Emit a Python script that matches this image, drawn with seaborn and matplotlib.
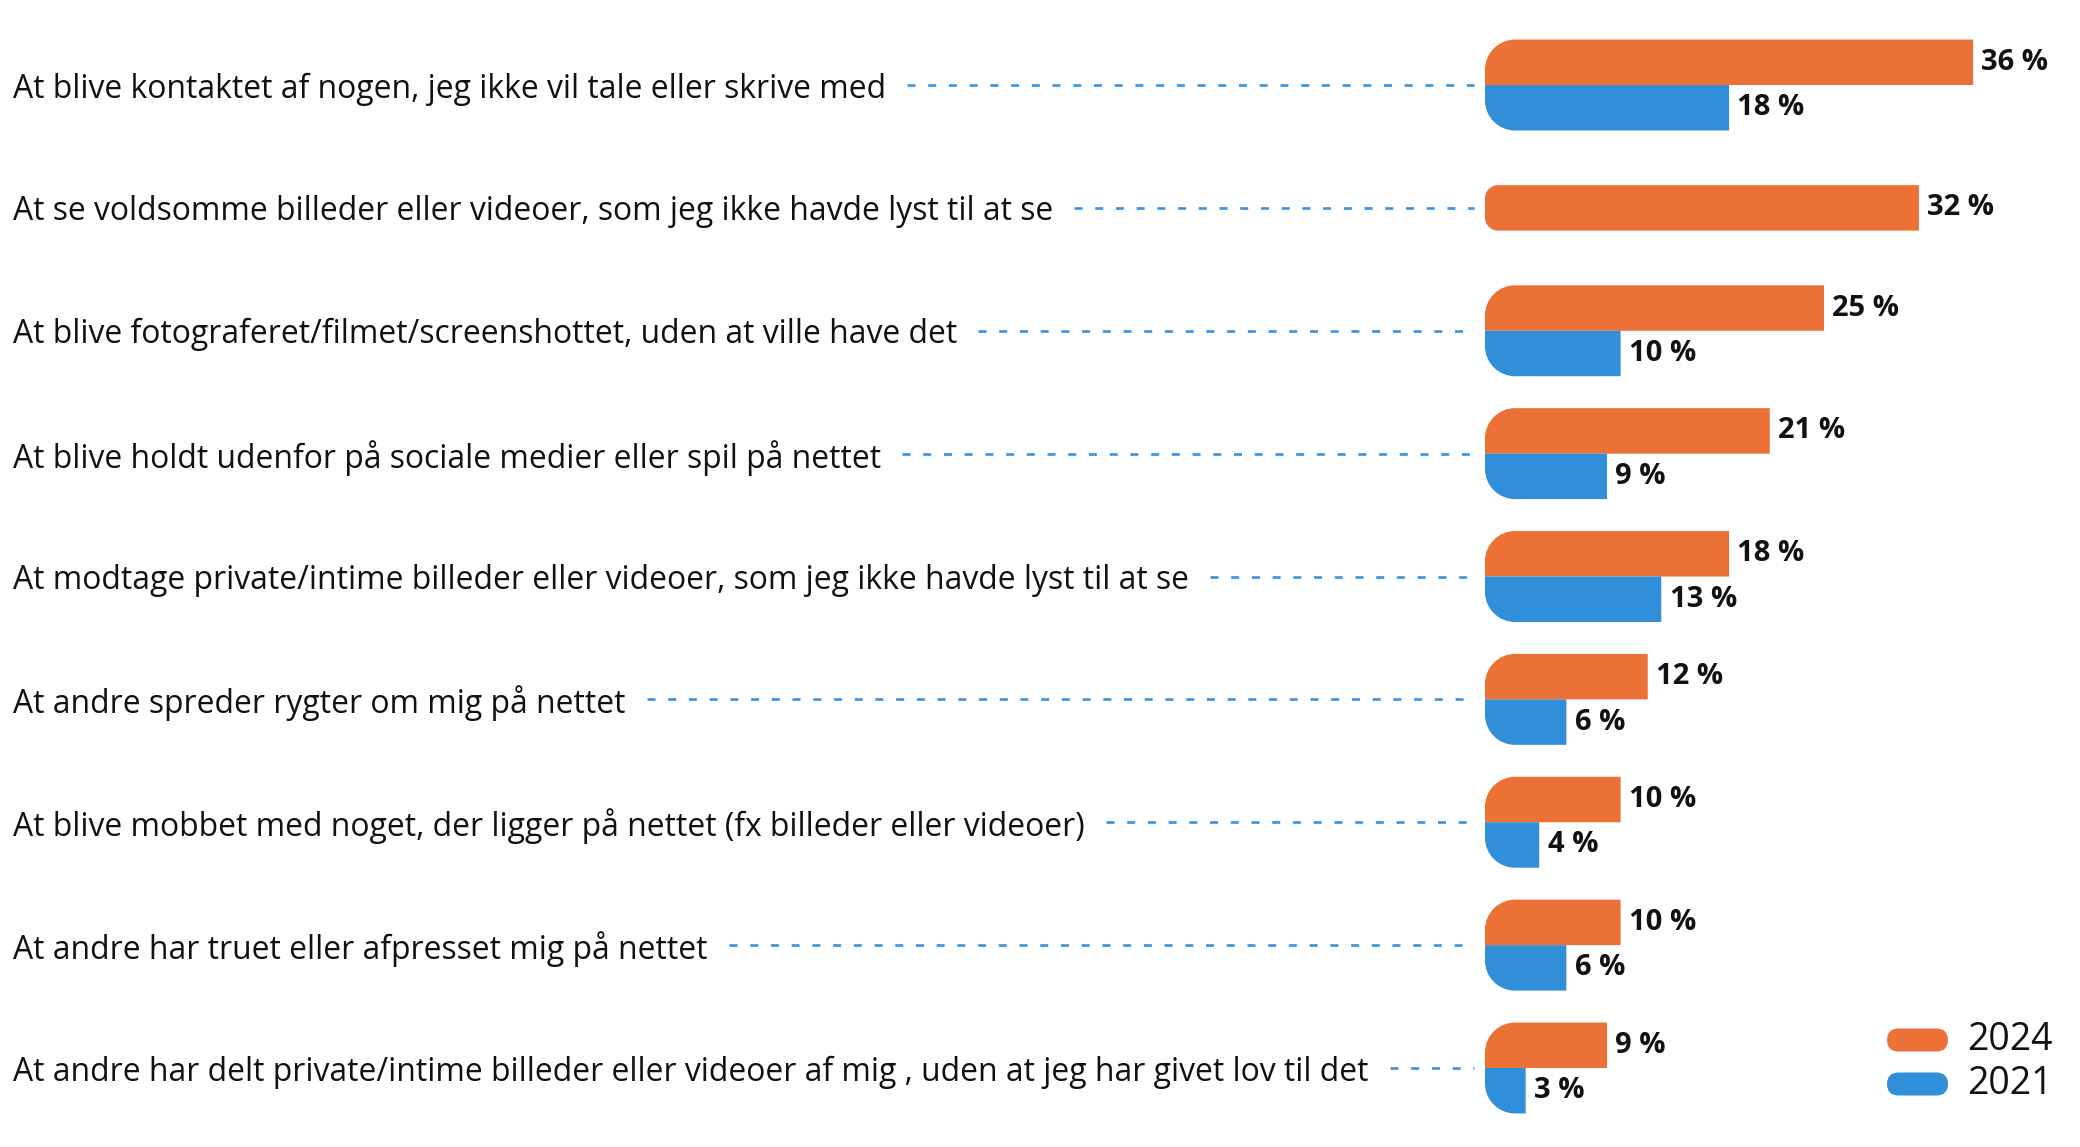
import numpy as np
import pandas as pd
import matplotlib
matplotlib.use("Agg")
import matplotlib.pyplot as plt
import seaborn as sns
from matplotlib.path import Path
from matplotlib.patches import PathPatch, FancyBboxPatch
from matplotlib import transforms as mtransforms
from matplotlib.colors import to_rgb

# ---------------- data ----------------
categories = [
    "At blive kontaktet af nogen, jeg ikke vil tale eller skrive med",
    "At se voldsomme billeder eller videoer, som jeg ikke havde lyst til at se",
    "At blive fotograferet/filmet/screenshottet, uden at ville have det",
    "At blive holdt udenfor på sociale medier eller spil på nettet",
    "At modtage private/intime billeder eller videoer, som jeg ikke havde lyst til at se",
    "At andre spreder rygter om mig på nettet",
    "At blive mobbet med noget, der ligger på nettet (fx billeder eller videoer)",
    "At andre har truet eller afpresset mig på nettet",
    "At andre har delt private/intime billeder eller videoer af mig , uden at jeg har givet lov til det",
]
values_2024 = [36, 32, 25, 21, 18, 12, 10, 10, 9]
values_2021 = [18, None, 10, 9, 13, 6, 4, 6, 3]
years = ["2024", "2021"]
colors = {"2024": "#EB7137", "2021": "#318ED9"}

# ---------------- style ----------------
sns.set_style("white")
plt.rcParams["font.family"] = ["Open Sans", "DejaVu Sans"]

W, H = 2080, 1147
fig = plt.figure(figsize=(W / 100, H / 100), dpi=100)
fig.patch.set_facecolor("white")
ax = fig.add_axes([1485 / W, 0, 560 / W, 1])

rows = []
for c, a, b in zip(categories, values_2024, values_2021):
    rows.append((c, "2024", a))
    if b is not None:
        rows.append((c, "2021", b))
df = pd.DataFrame(rows, columns=["kategori", "år", "andel"])

sns.barplot(data=df, x="andel", y="kategori", hue="år", hue_order=years,
            order=categories, palette=colors, orient="h", width=0.74,
            saturation=1, errorbar=None, legend=False, ax=ax)

ax.set_xlim(0, 41.3)
ax.set_ylim(8.643, -0.692)
ax.axis("off")


def px_per_unit():
    t = ax.transData
    p0 = t.transform((0, 0))
    px = t.transform((1, 0))
    py = t.transform((0, 1))
    return abs(px[0] - p0[0]), abs(py[1] - p0[1])


def rounded_path(x0, y0, w, h, rx, ry, round_low, round_high):
    k = 0.5523
    rx = min(rx, w)
    verts, codes = [], []
    verts.append((x0 + w, y0)); codes.append(Path.MOVETO)
    if round_low:
        verts += [(x0 + rx, y0), (x0 + rx * (1 - k), y0), (x0, y0 + ry * (1 - k)), (x0, y0 + ry)]
        codes += [Path.LINETO, Path.CURVE4, Path.CURVE4, Path.CURVE4]
    else:
        verts.append((x0, y0)); codes.append(Path.LINETO)
    if round_high:
        verts += [(x0, y0 + h - ry), (x0, y0 + h - ry * (1 - k)), (x0 + rx * (1 - k), y0 + h), (x0 + rx, y0 + h)]
        codes += [Path.LINETO, Path.CURVE4, Path.CURVE4, Path.CURVE4]
    else:
        verts.append((x0, y0 + h)); codes.append(Path.LINETO)
    verts.append((x0 + w, y0 + h)); codes.append(Path.LINETO)
    verts.append((x0 + w, y0)); codes.append(Path.CLOSEPOLY)
    return Path(verts, codes)


sx, sy = px_per_unit()
missing = {i for i, b in enumerate(values_2021) if b is None}
c2024 = to_rgb(colors["2024"])

for r in list(ax.patches):
    x0, y0, w, h = r.get_x(), r.get_y(), r.get_width(), r.get_height()
    fc = r.get_facecolor()
    r.remove()
    if not np.isfinite(w) or w == 0:
        continue
    idx = int(round(y0 + h / 2))
    is_2024 = np.allclose(fc[:3], c2024, atol=0.02)
    if idx in missing:
        y0 = idx - h / 2
        low, high, rad = True, True, 13
    elif is_2024:
        low, high, rad = True, False, 30
    else:
        low, high, rad = False, True, 30
    path = rounded_path(x0, y0, w, h, rad / sx, rad / sy, low, high)
    ax.add_patch(PathPatch(path, facecolor=fc, edgecolor="none", lw=0, zorder=2))
    ax.annotate(f"{w:.0f} %", (x0 + w, y0 + h / 2), xytext=(6, 0),
                textcoords="offset points", ha="left", va="center",
                fontsize=21, fontweight="bold", color="#111111", annotation_clip=False)

# ---------------- category labels + dashed leaders ----------------
blend = mtransforms.blended_transform_factory(fig.transFigure, ax.transData)
texts = [ax.text(13 / W, i, c, transform=blend, ha="left", va="center_baseline",
                 fontsize=20, color="#111111") for i, c in enumerate(categories)]
fig.canvas.draw()
renderer = fig.canvas.get_renderer()
w0 = texts[0].get_window_extent(renderer).width
size = 20 * 870 / w0
for t in texts:
    t.set_fontsize(size)
fig.canvas.draw()
for i, t in enumerate(texts):
    bb = t.get_window_extent(renderer)
    ax.plot([(bb.x1 + 21) / W, 1474 / W], [i, i], transform=blend,
            color="#3D95E0", lw=1.95, linestyle=(0, (2.95, 4.7)),
            dash_capstyle="butt", clip_on=False)

# ---------------- legend ----------------
for yr, yc in zip(years, [1040, 1084]):
    fig.add_artist(FancyBboxPatch((1887, H - yc - 11.5), 61, 23,
                                  boxstyle="round,pad=0,rounding_size=11.5",
                                  transform=mtransforms.IdentityTransform(),
                                  fc=colors[yr], ec="none"))
    fig.text(1967 / W, 1 - yc / H, yr, fontsize=27, ha="left", va="center", color="#111111")

fig.savefig("out.png", dpi=100, facecolor="white")
